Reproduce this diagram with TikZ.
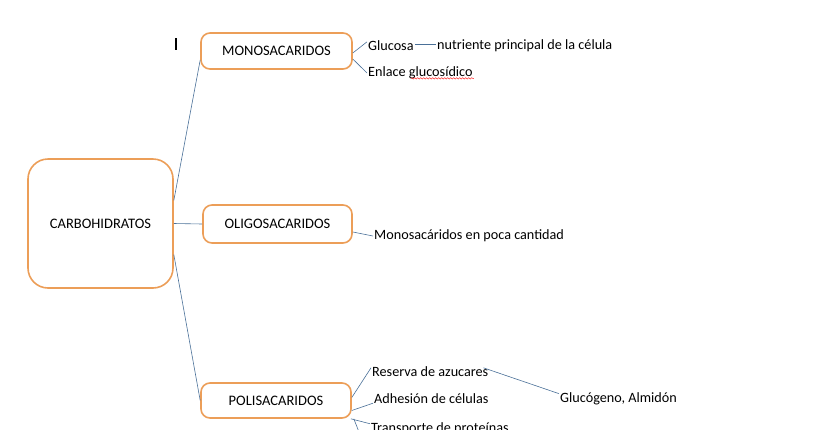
\documentclass[tikz,border=0pt]{standalone}
\usepackage{fontspec}
\setmainfont{Carlito}
\usetikzlibrary{decorations.pathmorphing}
\definecolor{cajanaranja}{RGB}{236,158,88}
\definecolor{lineaazul}{RGB}{74,112,152}

\begin{document}
\begin{tikzpicture}[x=1pt, y=-1pt,
  caja/.style={draw=cajanaranja, line width=1.6pt, rounded corners=9pt, fill=white, font=\fontsize{14.5}{16}\selectfont},
  texto/.style={anchor=west, inner sep=1pt, font=\fontsize{14.2}{16}\selectfont},
  linea/.style={draw=lineaazul, line width=0.6pt}]
\useasboundingbox (0, 0) rectangle (819, 429);
\node[caja, rounded corners=20pt, minimum width=145pt, minimum height=129pt] (carbo) at (100.5, 223.5) {CARBOHIDRATOS};
\node[caja, minimum width=151pt, minimum height=36pt] (mono) at (276.5, 51) {MONOSACARIDOS};
\node[caja, minimum width=149pt, minimum height=38pt] (oligo) at (277.5, 224) {OLIGOSACARIDOS};
\node[caja, minimum width=150pt, minimum height=35pt] (poli) at (276, 400.5) {POLISACARIDOS};
\node[texto] (glucosa) at (367, 46) {Glucosa};
\node[texto] (nutriente) at (436, 46) {nutriente principal de la célula};
\node[texto] (enlace) at (367, 73) {Enlace glucosídico};
\node[texto] (poca) at (373, 236) {Monosacáridos en poca cantidad};
\node[texto] (reserva) at (371, 372) {Reserva de azucares};
\node[texto] (adhesion) at (373, 399) {Adhesión de células};
\node[texto] (glucogeno) at (559, 399) {Glucógeno, Almidón};
\node[texto] (transporte) at (370, 429) {Transporte de proteínas};
\coordinate (abajo) at (359, 432);
\draw[linea] ([yshift=23pt]carbo.east) -- ([yshift=-9pt]mono.west);
\draw[linea] (carbo.east) -- (oligo.west);
\draw[linea] ([yshift=-31pt]carbo.east) -- (poli.west);
\draw[linea] ([yshift=-2pt]mono.east) -- ([yshift=-2pt]glucosa.north west);
\draw[linea] ([yshift=-8pt]mono.east) -- (enlace.west);
\draw[linea] ([yshift=2pt]glucosa.east) -- ([yshift=2pt]nutriente.west);
\draw[linea] ([yshift=-8pt]oligo.east) -- (poca.west);
\draw[linea] ([yshift=3pt]poli.east) -- ([yshift=-2pt]reserva.north west);
\draw[linea] ([yshift=-10pt]poli.east) -- ([yshift=2pt]adhesion.south west);
\draw[linea] ([xshift=-1pt]poli.south east) -- ([yshift=-2pt]transporte.north west);
\draw[linea] ([xshift=2pt]poli.south east) -- (abajo);
\draw[linea] ([xshift=-6pt, yshift=-2pt]reserva.north east) -- ([yshift=-2pt]glucogeno.north west);
% marca del cursor y subrayado del corrector
\fill (175, 38) rectangle (177, 50);
\draw[red, line width=0.4pt, decorate, decoration={snake, amplitude=0.7pt, segment length=3pt}]
  ([xshift=-63pt, yshift=2pt]enlace.south east) -- ([yshift=2pt]enlace.south east);
\end{tikzpicture}
\end{document}
